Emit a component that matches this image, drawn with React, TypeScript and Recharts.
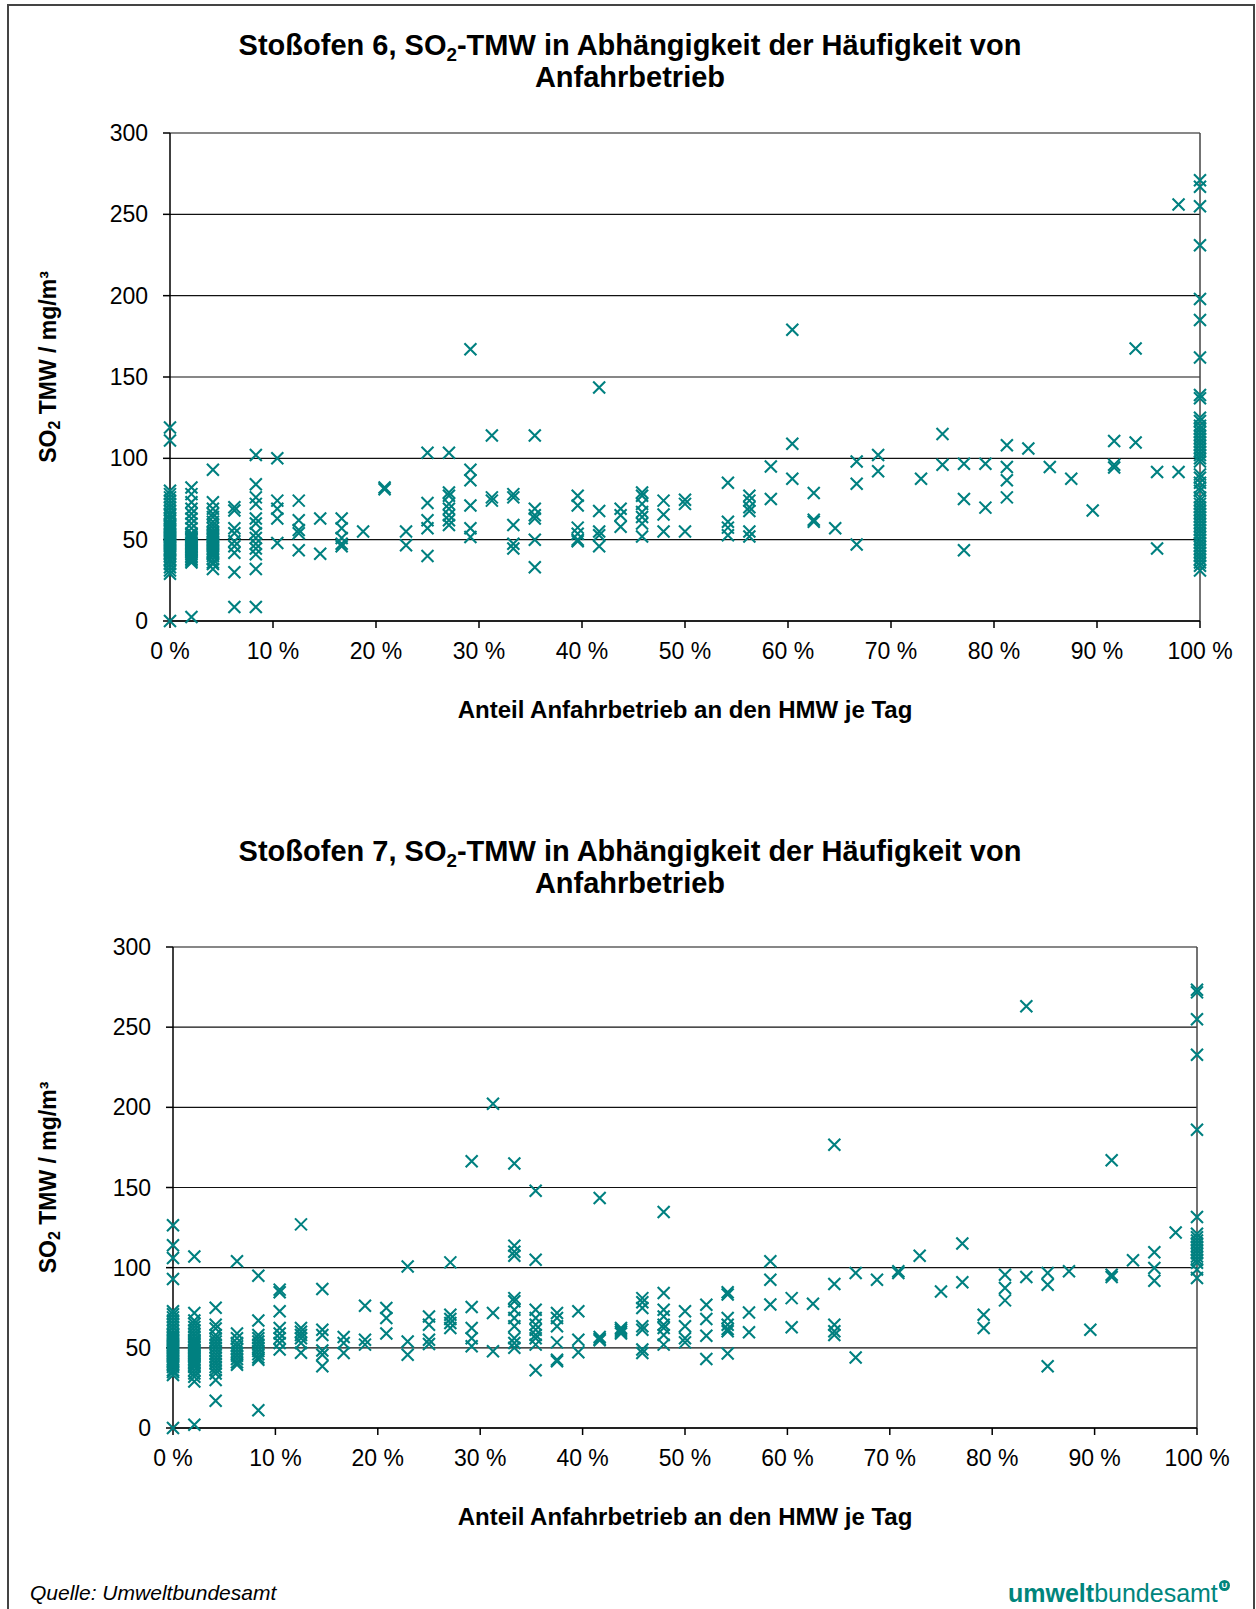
import { ScatterChart, Scatter, XAxis, YAxis, CartesianGrid, ReferenceLine } from 'recharts';

// x = number of start-up half-hour means (HMW) out of 48 per day, y = SO2 daily mean
type Pt = [number, number];

const ofen6Points: Pt[] = [
   [0, 119], [0, 111], [0, 80], [0, 78], [0, 76], [0, 74], [0, 72], [0, 70], [0, 68], [0, 66],
   [0, 65], [0, 63], [0, 62], [0, 60], [0, 59], [0, 58], [0, 57], [0, 56], [0, 55], [0, 54],
   [0, 53], [0, 52], [0, 51], [0, 50], [0, 49], [0, 48], [0, 47], [0, 46], [0, 45], [0, 44],
   [0, 43], [0, 42], [0, 41], [0, 40], [0, 38], [0, 37], [0, 35], [0, 33], [0, 31], [0, 29], [0, 0],
   [1, 82], [1, 78], [1, 73], [1, 69], [1, 66], [1, 63], [1, 60], [1, 57], [1, 54], [1, 53],
   [1, 52], [1, 51], [1, 50], [1, 49], [1, 48], [1, 47], [1, 46], [1, 45], [1, 44], [1, 43],
   [1, 42], [1, 41], [1, 40], [1, 39], [1, 38], [1, 37], [1, 36], [1, 2.5],
   [2, 93], [2, 73], [2, 69], [2, 66], [2, 64], [2, 61], [2, 59], [2, 57], [2, 55], [2, 54],
   [2, 53], [2, 52], [2, 51], [2, 50], [2, 49], [2, 48], [2, 47], [2, 46], [2, 45], [2, 44],
   [2, 43], [2, 42], [2, 41], [2, 40], [2, 38], [2, 36], [2, 35], [2, 32],
   [3, 70], [3, 68], [3, 57], [3, 54], [3, 49], [3, 46], [3, 42], [3, 30], [3, 8.6],
   [4, 102], [4, 84], [4, 76], [4, 72], [4, 63], [4, 60], [4, 54], [4, 51], [4, 47.5], [4, 44.5],
   [4, 41], [4, 32], [4, 8.6],
   [5, 100], [5, 74], [5, 69], [5, 63], [5, 48],
   [6, 74], [6, 62], [6, 56], [6, 54], [6, 43.5],
   [7, 63], [7, 41.4],
   [8, 63], [8, 57], [8, 51], [8, 47.5], [8, 46],
   [9, 55],
   [10, 82], [10, 81],
   [11, 55], [11, 46.5],
   [12, 103.5], [12, 72.5], [12, 62], [12, 57], [12, 40],
   [13, 103.5], [13, 79], [13, 77], [13, 72], [13, 69], [13, 65], [13, 62], [13, 59],
   [14, 167], [14, 93], [14, 86.5], [14, 71], [14, 57], [14, 51.6],
   [15, 114], [15, 76], [15, 74],
   [16, 78], [16, 76], [16, 59], [16, 47.5], [16, 44.5],
   [17, 114], [17, 69], [17, 65], [17, 63], [17, 50], [17, 33],
   [19, 77], [19, 71], [19, 57.4], [19, 53.7], [19, 50], [19, 49],
   [20, 143.5], [20, 67.6], [20, 55], [20, 52.7], [20, 46],
   [21, 69], [21, 65], [21, 58],
   [22, 79], [22, 77], [22, 72], [22, 67], [22, 64], [22, 60], [22, 52],
   [23, 74], [23, 65.4], [23, 55],
   [24, 74.6], [24, 72], [24, 55],
   [26, 85], [26, 61], [26, 57.4], [26, 52.7],
   [27, 77], [27, 74], [27, 70], [27, 67.6], [27, 55], [27, 52],
   [28, 95], [28, 75],
   [29, 179], [29, 109], [29, 87.5],
   [30, 78.7], [30, 62.3], [30, 61],
   [31, 57],
   [32, 98], [32, 84.4], [32, 47],
   [33, 102], [33, 92],
   [35, 87.5],
   [36, 115], [36, 96],
   [37, 96.7], [37, 75], [37, 43.5],
   [38, 96.7], [38, 69.7],
   [39, 108], [39, 94.7], [39, 86.5], [39, 76],
   [40, 106],
   [41, 94.7],
   [42, 87.5],
   [43, 68],
   [44, 110.7], [44, 96], [44, 94.3],
   [45, 167.5], [45, 109.7],
   [46, 91.6], [46, 44.5],
   [47, 256], [47, 91.6],
   [48, 271], [48, 267], [48, 255], [48, 231], [48, 198], [48, 185], [48, 162], [48, 139], [48, 137],
   [48, 125], [48, 123], [48, 120], [48, 118], [48, 116], [48, 114], [48, 112], [48, 110], [48, 108],
   [48, 106], [48, 104], [48, 102], [48, 100], [48, 98], [48, 90], [48, 88], [48, 85], [48, 82],
   [48, 80], [48, 76], [48, 74], [48, 72], [48, 70], [48, 68], [48, 66], [48, 64], [48, 62], [48, 60],
   [48, 58], [48, 56], [48, 54], [48, 52], [48, 50], [48, 48], [48, 46], [48, 44], [48, 42], [48, 40],
   [48, 38], [48, 36], [48, 34], [48, 31],
];

const ofen7Points: Pt[] = [
   [0, 126.4], [0, 114], [0, 106], [0, 93], [0, 72.8], [0, 71], [0, 69], [0, 67], [0, 65], [0, 63],
   [0, 61], [0, 59], [0, 58], [0, 57], [0, 56], [0, 55], [0, 54], [0, 53], [0, 52], [0, 51], [0, 50],
   [0, 49], [0, 48], [0, 47], [0, 46], [0, 45], [0, 44], [0, 43], [0, 42], [0, 41], [0, 40], [0, 39],
   [0, 38], [0, 36], [0, 35], [0, 33], [0, 0],
   [1, 107], [1, 71.7], [1, 67], [1, 65], [1, 63], [1, 61], [1, 59], [1, 57], [1, 55], [1, 54],
   [1, 53], [1, 52], [1, 51], [1, 50], [1, 49], [1, 48], [1, 47], [1, 46], [1, 45], [1, 44], [1, 43],
   [1, 42], [1, 41], [1, 40], [1, 39], [1, 38], [1, 36], [1, 34], [1, 32], [1, 29], [1, 2],
   [2, 75], [2, 64.4], [2, 62], [2, 58], [2, 56], [2, 54], [2, 52], [2, 50], [2, 48], [2, 46],
   [2, 44], [2, 42], [2, 40], [2, 38], [2, 36], [2, 34], [2, 30], [2, 17],
   [3, 104], [3, 59], [3, 56], [3, 53], [3, 51], [3, 49], [3, 47], [3, 45], [3, 43], [3, 41], [3, 39.5],
   [4, 95], [4, 67], [4, 58], [4, 56], [4, 54], [4, 52], [4, 50], [4, 48], [4, 46], [4, 44], [4, 42.6], [4, 11],
   [5, 86.3], [5, 84.6], [5, 72.8], [5, 62.4], [5, 59], [5, 56], [5, 53], [5, 48.9],
   [6, 127], [6, 62.4], [6, 60], [6, 58], [6, 56], [6, 53], [6, 47],
   [7, 86.7], [7, 61.3], [7, 58], [7, 48.4], [7, 45.7], [7, 38.5],
   [8, 56.8], [8, 53], [8, 46.8],
   [9, 76.3], [9, 55], [9, 52],
   [10, 74.8], [10, 68.6], [10, 59],
   [11, 100.8], [11, 54], [11, 45.7],
   [12, 69.6], [12, 64.4], [12, 55], [12, 52.4],
   [13, 103.3], [13, 70.7], [13, 68], [13, 65.5], [13, 62.4],
   [14, 166.3], [14, 75.5], [14, 62.4], [14, 56], [14, 51],
   [15, 202.3], [15, 71.7], [15, 47.8],
   [16, 165], [16, 113.7], [16, 110], [16, 107.5], [16, 81], [16, 79], [16, 73.8], [16, 68.6],
   [16, 63.4], [16, 56], [16, 53], [16, 50],
   [17, 148], [17, 105], [17, 73.8], [17, 68.6], [17, 64.4], [17, 61.3], [17, 58], [17, 56], [17, 52], [17, 36],
   [18, 71.7], [18, 68.6], [18, 63.4], [18, 53.4], [18, 42.6], [18, 41.6],
   [19, 72.8], [19, 55], [19, 47.2],
   [20, 143.5], [20, 56.8], [20, 55.5], [20, 54.7],
   [21, 62.4], [21, 61.3], [21, 60], [21, 59],
   [22, 81], [22, 78.4], [22, 74.8], [22, 63.4], [22, 61.3], [22, 48.9], [22, 46.8],
   [23, 134.7], [23, 84.2], [23, 73.8], [23, 69.6], [23, 64.4], [23, 62.4], [23, 58], [23, 52],
   [24, 72.8], [24, 63.4], [24, 56], [24, 53.4],
   [25, 76.9], [25, 68], [25, 57.6], [25, 43],
   [26, 84.6], [26, 83.2], [26, 68.6], [26, 64.4], [26, 61.7], [26, 60.3], [26, 46.4],
   [27, 72], [27, 59.7],
   [28, 104], [28, 92.5], [28, 77],
   [29, 81], [29, 62.8],
   [30, 77.5],
   [31, 176.7], [31, 89.8], [31, 64.4], [31, 60.3], [31, 58],
   [32, 96.7], [32, 44],
   [33, 92.5],
   [34, 97.7], [34, 96.7],
   [35, 107.5],
   [36, 85.2],
   [37, 115], [37, 90.9],
   [38, 70.7], [38, 62.4],
   [39, 95.6], [39, 87.3], [39, 79.6],
   [40, 263], [40, 94.2],
   [41, 96.7], [41, 89.4], [41, 38.5],
   [42, 97.7],
   [43, 61.3],
   [44, 167], [44, 95.6], [44, 94.2],
   [45, 104.6],
   [46, 109.6], [46, 99.8], [46, 91.9],
   [47, 122],
   [48, 273.4], [48, 271.7], [48, 255], [48, 232.8], [48, 186], [48, 131.6], [48, 121.2], [48, 119],
   [48, 117], [48, 115], [48, 113], [48, 111], [48, 109], [48, 107], [48, 105], [48, 103], [48, 98.8], [48, 93.6],
];

const xTicks = [0, 10, 20, 30, 40, 50, 60, 70, 80, 90, 100];
const yTicks = [0, 50, 100, 150, 200, 250, 300];

const TEAL = '#008080';
const FONT = '"Liberation Sans", Arial, sans-serif';

const toRows = (pts: Pt[]) => pts.map(([hmw, v]) => ({ x: (hmw / 48) * 100, y: v }));

const Cross = (props: any) => {
   const { cx, cy } = props;
   if (cx == null || cy == null) return null;
   const r = 6;
   return (
      <path
         d={`M${cx - r},${cy - r}L${cx + r},${cy + r}M${cx - r},${cy + r}L${cx + r},${cy - r}`}
         stroke={TEAL}
         strokeWidth={2.1}
         fill="none"
      />
   );
};

const YTitle = (props: any) => {
   const vb = props.viewBox || {};
   const cy = vb.y + vb.height / 2 - 10;
   return (
      <text
         x={48}
         y={cy}
         transform={`rotate(-90, 48, ${cy})`}
         textAnchor="middle"
         dominantBaseline="central"
         fontFamily={FONT}
         fontWeight="bold"
         fontSize={23}
         fill="#000"
      >
         SO<tspan dy={6} fontSize={16}>2</tspan>
         <tspan dy={-6}> TMW / mg/m³</tspan>
      </text>
   );
};

const XTitle = (props: any) => {
   const vb = props.viewBox || {};
   return (
      <text
         x={vb.x + vb.width / 2}
         y={vb.y + 88}
         textAnchor="middle"
         dominantBaseline="central"
         fontFamily={FONT}
         fontWeight="bold"
         fontSize={24}
         fill="#000"
      >
         Anteil Anfahrbetrieb an den HMW je Tag
      </text>
   );
};

type PlotProps = {
   rows: { x: number; y: number }[];
   top: number;
   margin: { top: number; right: number; left: number; bottom: number };
};

function Plot({ rows, top, margin }: PlotProps) {
   return (
      <div style={{ position: 'absolute', left: 0, top }}>
         <ScatterChart width={1256} height={640} margin={margin}>
            <CartesianGrid vertical={false} stroke="#111" strokeWidth={1.2} />
            <XAxis
               type="number"
               dataKey="x"
               domain={[0, 100]}
               ticks={xTicks}
               tickFormatter={(v) => `${v} %`}
               height={100}
               tickSize={7}
               tickMargin={15}
               stroke="#000"
               strokeWidth={1.5}
               tick={{ fill: '#000', fontSize: 23, fontFamily: FONT }}
               label={<XTitle />}
            />
            <YAxis
               type="number"
               dataKey="y"
               domain={[0, 300]}
               ticks={yTicks}
               width={160}
               tickSize={7}
               tickMargin={15}
               stroke="#000"
               strokeWidth={1.5}
               tick={{ fill: '#000', fontSize: 23, fontFamily: FONT }}
               label={<YTitle />}
            />
            <ReferenceLine x={100} stroke="#444" strokeWidth={1.5} />
            <Scatter data={rows} shape={<Cross />} isAnimationActive={false} />
         </ScatterChart>
      </div>
   );
}

const titleStyle = (top: number): React.CSSProperties => ({
   position: 'absolute',
   left: 2,
   top,
   width: 1256,
   textAlign: 'center',
   fontFamily: FONT,
   fontWeight: 'bold',
   fontSize: 29,
   lineHeight: '32px',
   color: '#000',
});

const Sub = () => (
   <sub style={{ fontSize: '0.65em', verticalAlign: '-0.3em', lineHeight: 0 }}>2</sub>
);

export default function App() {
   return (
      <div style={{ position: 'absolute', left: 0, top: 0, width: 1256, height: 1609, overflow: 'hidden', background: '#fff' }}>
         <div
            style={{
               position: 'absolute',
               left: 7,
               top: 4,
               width: 1244,
               height: 1640,
               border: '2px solid #444',
            }}
         />
         <div style={titleStyle(29)}>
            Stoßofen 6, SO<Sub />-TMW in Abhängigkeit der Häufigkeit von
            <br />
            Anfahrbetrieb
         </div>
         <Plot rows={toRows(ofen6Points)} top={100} margin={{ top: 33, right: 56, left: 10, bottom: 19 }} />

         <div style={titleStyle(835)}>
            Stoßofen 7, SO<Sub />-TMW in Abhängigkeit der Häufigkeit von
            <br />
            Anfahrbetrieb
         </div>
         <Plot rows={toRows(ofen7Points)} top={920} margin={{ top: 27, right: 59, left: 13, bottom: 32 }} />

         <div
            style={{
               position: 'absolute',
               left: 30,
               top: 1580,
               fontFamily: FONT,
               fontStyle: 'italic',
               fontSize: 21,
               lineHeight: '26px',
               color: '#000',
            }}
         >
            Quelle: Umweltbundesamt
         </div>
         <div
            style={{
               position: 'absolute',
               left: 1008,
               top: 1578,
               fontFamily: FONT,
               fontSize: 25,
               lineHeight: '30px',
               color: '#00857c',
               whiteSpace: 'nowrap',
            }}
         >
            <span style={{ fontWeight: 'bold' }}>umwelt</span>bundesamt
            <span
               style={{
                  display: 'inline-block',
                  width: 11,
                  height: 11,
                  borderRadius: 6,
                  background: '#00857c',
                  color: '#fff',
                  fontSize: 8,
                  lineHeight: '11px',
                  textAlign: 'center',
                  fontWeight: 'bold',
                  verticalAlign: 'top',
                  marginTop: 2,
                  marginLeft: 1,
               }}
            >
               U
            </span>
         </div>
      </div>
   );
}
